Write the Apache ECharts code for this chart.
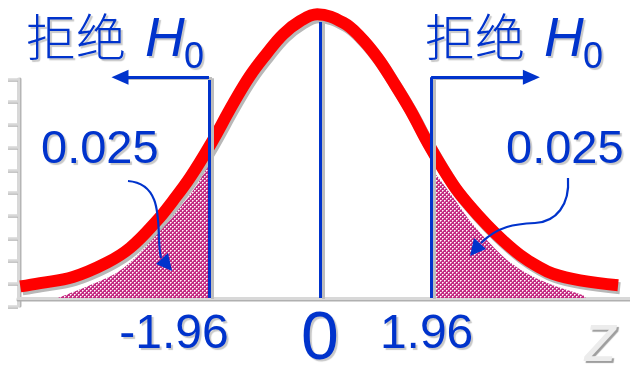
<!DOCTYPE html>
<html>
<head>
<meta charset="utf-8">
<script src="https://cdn.jsdelivr.net/npm/echarts@6/dist/echarts.min.js"></script>
<style>
  html, body { margin: 0; padding: 0; background: #ffffff; }
  #chart { width: 630px; height: 376px; }
</style>
</head>
<body>
<div id="chart"></div>
<script>
// Sampling distribution of the test statistic z (density curve)
const curveZ = [-5.29, -4.94, -4.36, -3.76, -3.35, -2.88, -2.59, -2.29, -1.94, -1.54,
                -1.24, -0.94, -0.65, -0.35, -0.05, 0.41, 0.71, 1.01, 1.29, 1.59,
                1.94, 2.35, 2.65, 2.95, 3.23, 3.53, 3.83, 4.11, 4.59, 5.26];
const curveDensity = [0.021, 0.027, 0.038, 0.064, 0.091, 0.140, 0.177, 0.219, 0.277, 0.351,
                      0.402, 0.443, 0.478, 0.502, 0.514, 0.499, 0.473, 0.436, 0.392, 0.341,
                      0.274, 0.205, 0.166, 0.132, 0.104, 0.078, 0.058, 0.044, 0.032, 0.023];

// Lower rejection region (left tail)
const lowerTailZ = [-4.62, -4.06, -3.58, -3.18, -2.82, -2.47, -2.17, -1.96];
const lowerTailDensity = [0.000, 0.023, 0.046, 0.081, 0.125, 0.164, 0.205, 0.245];

// Upper rejection region (right tail)
const upperTailZ = [1.96, 2.06, 2.35, 2.65, 2.95, 3.30, 3.71, 4.11, 4.64, 4.69];
const upperTailDensity = [0.233, 0.222, 0.182, 0.139, 0.104, 0.069, 0.041, 0.023, 0.005, 0.000];

// Critical values on the z axis and their labels
const criticalValues = [-1.96, 0, 1.96];
const criticalLabels = ['-1.96', '0', '1.96'];

// Annotation texts
const tailProbabilities = ['0.025', '0.025'];
const rejectText = '拒绝';
const hypothesisText = 'H';
const hypothesisIndex = '0';
const axisName = 'z';

const BLUE = '#0033cc';
const LATIN = '"Liberation Sans", Arial, sans-serif';
const CJK = '"Noto Sans CJK SC", sans-serif';

function pairs(xs, ys) { return xs.map((x, i) => [x, ys[i]]); }

// Fine dotted magenta fill used for the rejection regions
function dotPattern() {
  const c = document.createElement('canvas');
  c.width = 4; c.height = 4;
  const g = c.getContext('2d');
  g.fillStyle = '#c42c82';
  g.fillRect(0, 0, 4, 4);
  g.fillStyle = '#ffffff';
  g.fillRect(0, 0, 1, 1);
  g.fillRect(2, 2, 1, 1);
  g.fillStyle = '#eaa6cc';
  g.fillRect(1, 0, 1, 1);
  g.fillRect(3, 2, 1, 1);
  g.fillRect(0, 1, 1, 1);
  g.fillRect(2, 3, 1, 1);
  return c;
}
const pattern = { image: dotPattern(), repeat: 'repeat' };

const textShadow = { textShadowColor: 'rgba(0,0,0,0.22)', textShadowOffsetX: 2, textShadowOffsetY: 2, textShadowBlur: 1 };

function blueText(text, x, y, size, family, style, weight) {
  return {
    type: 'text', x: x, y: y, silent: true, z: 20,
    style: Object.assign({
      text: text, fontSize: size, fontFamily: family, fontStyle: style || 'normal',
      fontWeight: weight || 'normal',
      fill: BLUE, verticalAlign: 'middle', align: 'left'
    }, textShadow)
  };
}

// "拒绝 H0" heading placed at a given left edge
function rejectHeading(x0) {
  return [
    blueText(rejectText, x0, 37, 50, CJK, 'normal', 300),
    blueText(hypothesisText, x0 + 119, 41, 55, LATIN, 'italic'),
    blueText(hypothesisIndex, x0 + 158, 58, 36, LATIN)
  ];
}

const arrowStroke = { stroke: BLUE, lineWidth: 2.2, fill: null };

const graphics = []
  .concat(rejectHeading(26))
  .concat(rejectHeading(425))
  .concat([
    blueText(tailProbabilities[0], 41, 150, 47, LATIN),
    blueText(tailProbabilities[1], 506, 150, 47, LATIN),
    // curved pointer into the lower tail
    { type: 'bezierCurve', silent: true, z: 20,
      shape: { x1: 128, y1: 181, cpx1: 168, cpy1: 184, cpx2: 155, cpy2: 235, x2: 161, y2: 258 },
      style: arrowStroke },
    { type: 'polygon', silent: true, z: 20,
      shape: { points: [[172, 271], [168, 253], [156, 264]] }, style: { fill: BLUE } },
    // curved pointer into the upper tail
    { type: 'bezierCurve', silent: true, z: 20,
      shape: { x1: 568, y1: 178, cpx1: 570, cpy1: 205, cpx2: 556, cpy2: 222, x2: 535, y2: 223 },
      style: arrowStroke },
    { type: 'bezierCurve', silent: true, z: 20,
      shape: { x1: 535, y1: 223, cpx1: 515, cpy1: 224, cpx2: 498, cpy2: 226, x2: 481, y2: 243 },
      style: arrowStroke },
    { type: 'polygon', silent: true, z: 20,
      shape: { points: [[470, 256], [486, 249], [474, 238]] }, style: { fill: BLUE } }
  ]);

const labelRich = {
  neg:  { fontSize: 48, lineHeight: 48, fontFamily: LATIN, color: BLUE, padding: [10, 70, 0, 0] },
  zero: { fontSize: 68, lineHeight: 68, fontFamily: LATIN, color: BLUE, padding: [0, 0, 0, 0] },
  pos:  { fontSize: 48, lineHeight: 48, fontFamily: LATIN, color: BLUE, padding: [10, 9, 0, 0] }
};
Object.keys(labelRich).forEach(k => Object.assign(labelRich[k], textShadow));

const chart = echarts.init(document.getElementById('chart'), null, { renderer: 'canvas' });

chart.setOption({
  animation: false,
  backgroundColor: '#ffffff',
  grid: [
    { left: 18, right: 0, top: 0, bottom: 70 },
    { left: 18, width: 10, top: 79, bottom: 70 }
  ],
  xAxis: [
    {
      gridIndex: 0, type: 'value', min: -5.33, max: 5.47,
      name: axisName, nameLocation: 'end', nameGap: -12,
      nameTextStyle: {
        fontSize: 68, fontStyle: 'italic', fontFamily: LATIN, color: '#ececec',
        align: 'right', verticalAlign: 'top', padding: [10, 0, 0, 0],
        textShadowColor: '#9e9e9e', textShadowOffsetX: 2, textShadowOffsetY: 2, textShadowBlur: 1
      },
      axisLine: { show: true, onZero: false,
        lineStyle: { color: '#d8d8d8', width: 3, shadowColor: '#b0b0b0', shadowOffsetY: 1.5 } },
      axisTick: { show: false },
      splitLine: { show: false },
      axisLabel: {
        show: true, margin: 8, hideOverlap: false,
        customValues: criticalValues,
        formatter: function (v) {
          const i = criticalValues.findIndex(c => Math.abs(c - v) < 1e-9);
          const t = i >= 0 ? criticalLabels[i] : '';
          const key = v < 0 ? 'neg' : (v === 0 ? 'zero' : 'pos');
          return '{' + key + '|' + t + '}';
        },
        rich: labelRich
      }
    },
    { gridIndex: 1, type: 'value', min: 0, max: 1, show: false }
  ],
  yAxis: [
    { gridIndex: 0, type: 'value', min: 0, max: 0.54, show: false },
    {
      gridIndex: 1, type: 'value', min: 0, max: 0.40, interval: 0.04,
      axisLine: { show: true,
        lineStyle: { color: '#d8d8d8', width: 3, shadowColor: '#b5b5b5', shadowOffsetX: 1.5 } },
      axisTick: { show: true, inside: false, length: 10,
        lineStyle: { color: '#d8d8d8', width: 2.5, shadowColor: '#b5b5b5', shadowOffsetY: 1 } },
      axisLabel: { show: false },
      splitLine: { show: false }
    }
  ],
  series: [
    {
      type: 'line', xAxisIndex: 0, yAxisIndex: 0, z: 1,
      data: pairs(lowerTailZ, lowerTailDensity),
      smooth: 0.3, symbol: 'none', silent: true,
      lineStyle: { width: 0 },
      areaStyle: { color: pattern, opacity: 1 }
    },
    {
      type: 'line', xAxisIndex: 0, yAxisIndex: 0, z: 1,
      data: pairs(upperTailZ, upperTailDensity),
      smooth: 0.3, symbol: 'none', silent: true,
      lineStyle: { width: 0 },
      areaStyle: { color: pattern, opacity: 1 }
    },
    {
      type: 'line', xAxisIndex: 0, yAxisIndex: 0, z: 3,
      data: pairs(curveZ, curveDensity),
      smooth: 0.4, symbol: 'none', silent: true, clip: false,
      lineStyle: { color: '#ff0000', width: 12, cap: 'butt', join: 'round',
        shadowColor: '#b8b8b8', shadowOffsetX: 2, shadowOffsetY: 3 }
    },
    {
      type: 'line', xAxisIndex: 0, yAxisIndex: 0, z: 5, data: [], silent: true,
      markLine: {
        silent: true, animation: false,
        symbol: ['none', 'none'],
        label: { show: false },
        lineStyle: { color: BLUE, width: 3, type: 'solid',
          shadowColor: '#bdbdbd', shadowOffsetX: 3, shadowOffsetY: 1 },
        data: [
          [{ coord: [criticalValues[0], 0] }, { coord: [criticalValues[0], 0.40] }],
          [{ coord: [criticalValues[1], 0] }, { coord: [criticalValues[1], 0.50] }],
          [{ coord: [criticalValues[2], 0] }, { coord: [criticalValues[2], 0.40] }],
          [{ coord: [criticalValues[0], 0.40] },
           { coord: [-3.53, 0.40], symbol: 'triangle', symbolSize: [15, 17] }],
          [{ coord: [criticalValues[2], 0.40] },
           { coord: [3.73, 0.40], symbol: 'triangle', symbolSize: [15, 17] }]
        ]
      }
    }
  ],
  graphic: graphics
});
</script>
</body>
</html>
